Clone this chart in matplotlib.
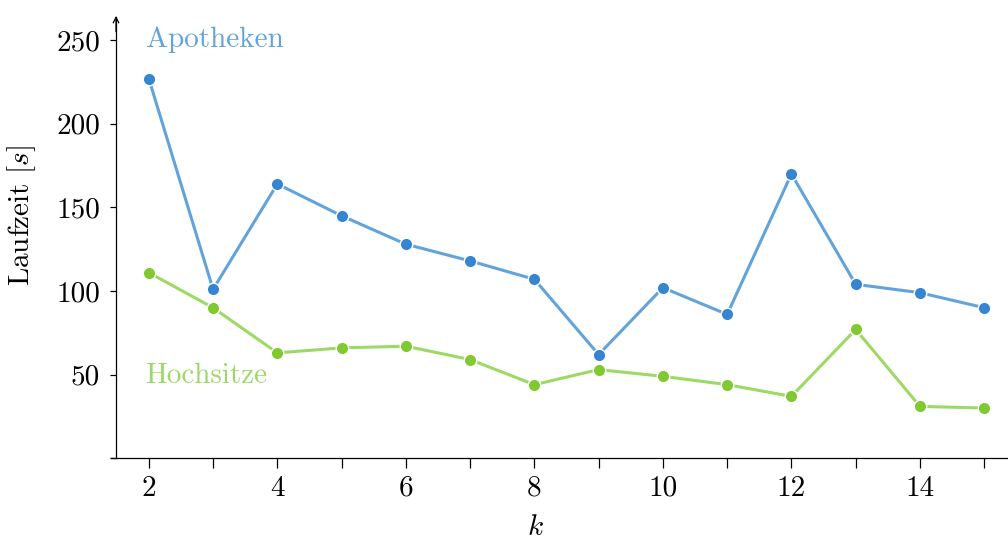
import matplotlib
matplotlib.use("Agg")
import matplotlib.pyplot as plt

plt.rcParams["font.family"] = "serif"
plt.rcParams["font.serif"] = ["cmr10"]
plt.rcParams["mathtext.fontset"] = "cm"
plt.rcParams["axes.formatter.use_mathtext"] = True

k = [2, 3, 4, 5, 6, 7, 8, 9, 10, 11, 12, 13, 14, 15]
apotheken = [227, 101, 164, 145, 128, 118, 107, 62, 102, 86, 170, 104, 99, 90]
hochsitze = [111, 90, 63, 66, 67, 59, 44, 53, 49, 44, 37, 77, 31, 30]

blue_line, blue_dot = "#62a4d9", "#3585d0"
green_line, green_dot = "#9dd965", "#80c931"

fig = plt.figure(figsize=(10.08, 5.41), dpi=100)
ax = fig.add_axes([0.110, 0.153, 0.890, 0.816])

for vals, lc, mc in [(apotheken, blue_line, blue_dot), (hochsitze, green_line, green_dot)]:
    ax.plot(k, vals, color=lc, lw=2.2, marker="o", ms=9,
            mfc=mc, mec="white", mew=1.0, zorder=3)

ax.set_xlim(1.41, 15.37)
ax.set_ylim(0, 264)
ax.spines["left"].set_position(("data", 1.49))
ax.spines["top"].set_visible(False)
ax.spines["right"].set_visible(False)
for s in ("left", "bottom"):
    ax.spines[s].set_linewidth(0.9)

ax.set_xticks(range(2, 16))
ax.set_xticklabels([str(v) if v % 2 == 0 else "" for v in range(2, 16)])
ax.set_yticks([0, 50, 100, 150, 200, 250])
ax.set_yticklabels(["", "50", "100", "150", "200", "250"])
ax.tick_params(axis="x", direction="out", length=7.5, width=0.9,
               labelsize=21, pad=5)
ax.tick_params(axis="y", direction="out", length=4.5, width=0.9,
               labelsize=21, pad=7)

# arrow head on the y axis
ax.annotate("", xy=(1.49, 264.5), xytext=(1.49, 255),
            xycoords="data", textcoords="data",
            arrowprops=dict(arrowstyle="->", lw=0.9, color="black",
                            shrinkA=0, shrinkB=0), annotation_clip=False)

ax.set_xlabel("$k$", fontsize=21)
ax.set_ylabel("Laufzeit [$s$]", fontsize=21)
ax.xaxis.set_label_coords(0.473, -0.127)
ax.yaxis.set_label_coords(-0.081, 0.55)

ax.text(1.95, 250, "Apotheken", color=blue_line, fontsize=21, va="center")
ax.text(1.95, 49, "Hochsitze", color=green_line, fontsize=21, va="center")

fig.savefig("out.png", dpi=100)
